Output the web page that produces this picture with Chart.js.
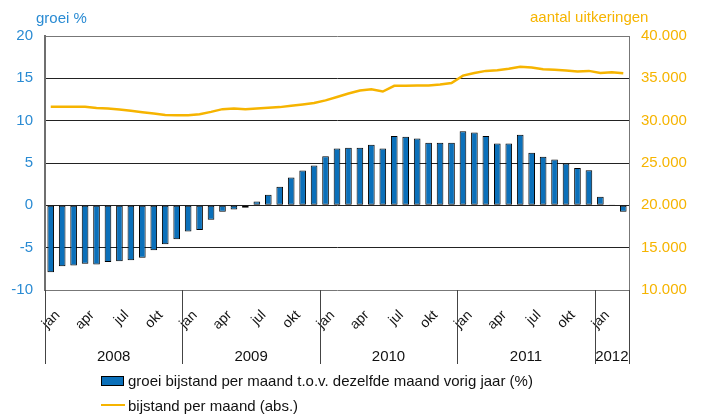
<!DOCTYPE html>
<html>
<head>
<meta charset="utf-8">
<script src="https://cdn.jsdelivr.net/npm/chart.js@4.4.1/dist/chart.umd.min.js"></script>
<style>
  html, body { margin: 0; padding: 0; background: #fff; }
  #wrap { width: 707px; height: 414px; position: relative; }
</style>
</head>
<body>
<div id="wrap"><canvas id="chartBijstand"></canvas></div>
<script>
const monthNames = ['jan', 'feb', 'mrt', 'apr', 'mei', 'jun', 'jul', 'aug', 'sep', 'okt', 'nov', 'dec'];
const years = [2008, 2009, 2010, 2011, 2012];
const shownMonths = ['jan', 'apr', 'jul', 'okt'];

// groei bijstand t.o.v. zelfde maand vorig jaar (%), jan 2008 - mrt 2012
const growth = [
    -7.9, -7.2, -7.1, -6.9, -7.0, -6.7, -6.6, -6.5, -6.2, -5.3, -4.6, -4.0,
    -3.1, -2.9, -1.7, -0.75, -0.5, -0.3, 0.45, 1.25, 2.2, 3.3, 4.1, 4.7,
    5.8, 6.7, 6.8, 6.8, 7.15, 6.7, 8.2, 8.1, 7.9, 7.4, 7.4, 7.4,
    8.75, 8.6, 8.2, 7.3, 7.3, 8.35, 6.2, 5.75, 5.4, 4.95, 4.4, 4.15,
    1.0, 0.1, -0.75
];

// bijstand per maand (absoluut aantal uitkeringen)
const uitkeringen = [
    31640, 31640, 31640, 31640, 31500, 31440, 31320, 31160, 31000, 30840, 30680, 30640,
    30640, 30760, 31040, 31360, 31440, 31360, 31440, 31520, 31600, 31760, 31920, 32080,
    32400, 32800, 33200, 33560, 33720, 33440, 34120, 34120, 34160, 34160, 34280, 34440,
    35320, 35640, 35880, 35960, 36120, 36360, 36280, 36080, 36000, 35920, 35800, 35880,
    35640, 35720, 35600
];

const leftTicks = [-10, -5, 0, 5, 10, 15, 20];
const rightTicks = [10000, 15000, 20000, 25000, 30000, 35000, 40000];

const seriesNames = [
    'groei bijstand per maand t.o.v. dezelfde maand vorig jaar (%)',
    'bijstand per maand (abs.)'
];

const labels = [];
growth.forEach(function (v, i) {
    labels.push(monthNames[i % 12]);
});

const blue = '#0b70ba';
const gold = '#f6b400';
const tickBlue = '#2a8bd3';
const FONT = 'Liberation Sans, Arial, sans-serif';

function dots(v) {
    return String(v).replace(/\B(?=(\d{3})+(?!\d))/g, '.');
}

// assen-titels, jaarverdeling en legenda
const extras = {
    id: 'extras',
    afterDraw(chart) {
        const ctx = chart.ctx;
        const x = chart.scales.x;
        const area = chart.chartArea;
        const catW = (area.right - area.left) / labels.length;
        ctx.save();

        ctx.font = '15px ' + FONT;
        ctx.textBaseline = 'alphabetic';
        ctx.textAlign = 'left';
        ctx.fillStyle = tickBlue;
        ctx.fillText('groei %', 36, 23);
        ctx.fillStyle = gold;
        ctx.fillText('aantal uitkeringen', 530, 22);

        // jaar-scheidingen
        ctx.strokeStyle = '#444';
        ctx.lineWidth = 1;
        const bounds = [];
        labels.forEach(function (l, i) {
            if (i % 12 === 0) bounds.push(x.getPixelForValue(i) - catW / 2);
        });
        bounds.push(area.right);
        bounds.forEach(function (bx) {
            ctx.beginPath();
            ctx.moveTo(Math.round(bx) + 0.5, area.bottom);
            ctx.lineTo(Math.round(bx) + 0.5, 364);
            ctx.stroke();
        });

        ctx.fillStyle = '#111';
        ctx.textAlign = 'center';
        ctx.font = '15px ' + FONT;
        years.forEach(function (y, k) {
            const mid = (bounds[k] + bounds[k + 1]) / 2;
            ctx.fillText(String(y), mid, 361);
        });

        // legenda
        ctx.textAlign = 'left';
        ctx.textBaseline = 'middle';
        ctx.fillStyle = blue;
        ctx.fillRect(101, 376, 22, 9);
        ctx.strokeStyle = '#000';
        ctx.strokeRect(101.5, 376.5, 22, 9);
        ctx.fillStyle = '#111';
        ctx.fillText(seriesNames[0], 128, 382);

        ctx.strokeStyle = gold;
        ctx.lineWidth = 2;
        ctx.beginPath();
        ctx.moveTo(101, 405);
        ctx.lineTo(125, 405);
        ctx.stroke();
        ctx.fillText(seriesNames[1], 128, 407);

        ctx.restore();
    }
};

new Chart(document.getElementById('chartBijstand'), {
    data: {
        labels: labels,
        datasets: [{
            type: 'line',
            label: seriesNames[1],
            data: uitkeringen,
            yAxisID: 'y1',
            borderColor: gold,
            borderWidth: 2.5,
            pointRadius: 0,
            tension: 0,
            order: 0
        }, {
            type: 'bar',
            label: seriesNames[0],
            data: growth,
            yAxisID: 'y',
            backgroundColor: blue,
            borderColor: '#000',
            borderWidth: 1,
            borderSkipped: false,
            categoryPercentage: 1,
            barPercentage: 0.58,
            order: 1
        }]
    },
    options: {
        responsive: true,
        maintainAspectRatio: false,
        animation: false,
        layout: { padding: { top: 36, left: 0, right: 0, bottom: 0 } },
        plugins: {
            legend: { display: false },
            tooltip: { enabled: false }
        },
        scales: {
            x: {
                offset: true,
                grid: { display: false, drawTicks: false },
                border: { display: false },
                ticks: {
                    autoSkip: false,
                    minRotation: 45,
                    maxRotation: 45,
                    padding: 17,
                    labelOffset: 7,
                    color: '#111',
                    font: { family: FONT, size: 14 },
                    callback: function (value) {
                        const l = this.getLabelForValue(value);
                        return shownMonths.includes(l) ? l : '';
                    }
                },
                afterFit: function (scale) { scale.height = 124; }
            },
            y: {
                position: 'left',
                min: -10,
                max: 20,
                afterBuildTicks: function (scale) {
                    scale.ticks = leftTicks.map(function (v) { return { value: v }; });
                },
                grid: {
                    drawTicks: false,
                    color: function (c) {
                        return (c.tick && (c.tick.value === 20 || c.tick.value === -10)) ? '#777' : '#222';
                    }
                },
                border: { color: '#6f6f6f', width: 2 },
                ticks: {
                    padding: 12,
                    color: tickBlue,
                    font: { family: FONT, size: 15 }
                },
                afterFit: function (scale) { scale.width = 45; }
            },
            y1: {
                position: 'right',
                min: 10000,
                max: 40000,
                afterBuildTicks: function (scale) {
                    scale.ticks = rightTicks.map(function (v) { return { value: v }; });
                },
                grid: { drawOnChartArea: false, drawTicks: false },
                border: { color: '#777', width: 1 },
                ticks: {
                    padding: 12,
                    color: gold,
                    font: { family: FONT, size: 15 },
                    callback: function (v) { return dots(v); }
                },
                afterFit: function (scale) { scale.width = 78; }
            }
        }
    },
    plugins: [extras]
});
</script>
</body>
</html>
